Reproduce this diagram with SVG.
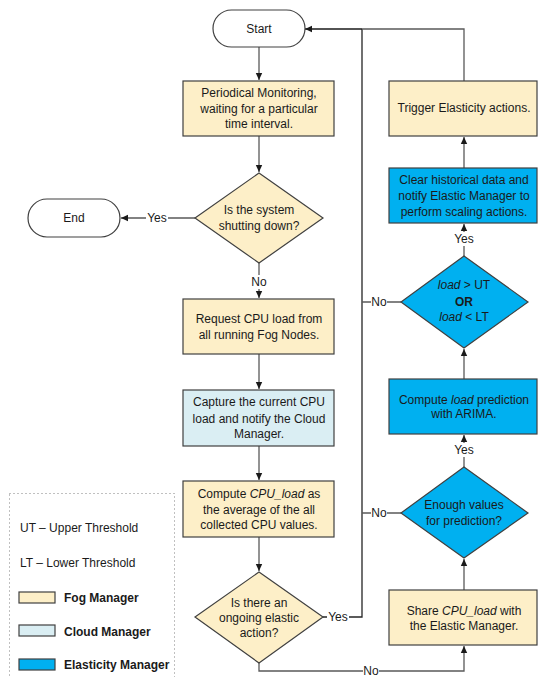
<svg xmlns="http://www.w3.org/2000/svg" width="538" height="677" viewBox="0 0 538 677">
<defs>
<style>
text{font-family:"Liberation Sans",Arial,sans-serif;font-size:12px;fill:#1a1a1a;text-anchor:middle}
.fog{fill:#FDEFC8;stroke:#404040;stroke-width:1.2}
.cloud{fill:#DAEEF3;stroke:#404040;stroke-width:1.2}
.el{fill:#00B0F0;stroke:#404040;stroke-width:1.2}
.term{fill:#fff;stroke:#404040;stroke-width:1.2}
.ln{fill:none;stroke:#595959;stroke-width:1.3}
.leg{text-anchor:start}
</style>
<marker id="ah" markerWidth="8" markerHeight="8" refX="7" refY="4" orient="auto" markerUnits="userSpaceOnUse">
<path d="M0,0.8 L7,4 L0,7.2 Z" fill="#1a1a1a"/>
</marker>
</defs>

<g id="connectors">
<path class="ln" d="M259,47 V80" marker-end="url(#ah)"/>
<path class="ln" d="M259,136 V172" marker-end="url(#ah)"/>
<path class="ln" d="M195,218 H121" marker-end="url(#ah)"/>
<path class="ln" d="M259,263 V298" marker-end="url(#ah)"/>
<path class="ln" d="M259,354 V389" marker-end="url(#ah)"/>
<path class="ln" d="M259,446 V480" marker-end="url(#ah)"/>
<path class="ln" d="M259,537 V571" marker-end="url(#ah)"/>
<path class="ln" d="M259,663 V671 H464 V646" marker-end="url(#ah)"/>
<path class="ln" d="M323,617 H362 V29" style="stroke:#262626"/>
<path class="ln" d="M362,29 H305" style="stroke:#1a1a1a;stroke-width:1.6" marker-end="url(#ah)"/>
<path class="ln" d="M464,81 V29 H362"/>
<path class="ln" d="M464,168 V137" marker-end="url(#ah)"/>
<path class="ln" d="M464,256 V224" marker-end="url(#ah)"/>
<path class="ln" d="M401,302 H362"/>
<path class="ln" d="M464,379 V349" marker-end="url(#ah)"/>
<path class="ln" d="M464,467 V435" marker-end="url(#ah)"/>
<path class="ln" d="M401,513 H362"/>
<path class="ln" d="M464,590 V559" marker-end="url(#ah)"/>
<rect x="146" y="211" width="22" height="14" fill="#fff"/>
<text x="157" y="222">Yes</text>
<rect x="251" y="275" width="16" height="14" fill="#fff"/>
<text x="259" y="286">No</text>
<rect x="327" y="610" width="22" height="14" fill="#fff"/>
<text x="338" y="621">Yes</text>
<rect x="363" y="664" width="16" height="13" fill="#fff"/>
<text x="371" y="675">No</text>
<rect x="371" y="295" width="16" height="14" fill="#fff"/>
<text x="379" y="306">No</text>
<rect x="371" y="506" width="16" height="14" fill="#fff"/>
<text x="379" y="517">No</text>
<rect x="452" y="232" width="24" height="14" fill="#fff"/>
<text x="464" y="243">Yes</text>
<rect x="452" y="443" width="24" height="14" fill="#fff"/>
<text x="464" y="454">Yes</text>
</g>

<g id="start">
<rect class="term" x="213" y="10" width="92" height="37" rx="18.5"/>
<text x="259" y="33">Start</text>
</g>

<g id="monitor">
<rect class="fog" x="183" y="81" width="151" height="55"/>
<text x="259" y="97">Periodical Monitoring,</text>
<text x="259" y="113">waiting for a particular</text>
<text x="259" y="128">time interval.</text>
</g>

<g id="shutdown">
<polygon class="fog" points="259,173 323,218 259,263 195,218"/>
<text x="259" y="214">Is the system</text>
<text x="259" y="230">shutting down?</text>
</g>

<g id="end">
<rect class="term" x="28" y="199" width="92" height="38" rx="19"/>
<text x="74" y="222">End</text>
</g>

<g id="request">
<rect class="fog" x="183" y="299" width="151" height="55"/>
<text x="259" y="323">Request CPU load from</text>
<text x="259" y="339">all running Fog Nodes.</text>
</g>

<g id="capture">
<rect class="cloud" x="183" y="390" width="151" height="56"/>
<text x="259" y="406">Capture the current CPU</text>
<text x="259" y="423">load and notify the Cloud</text>
<text x="259" y="438">Manager.</text>
</g>

<g id="compute">
<rect class="fog" x="183" y="481" width="151" height="56"/>
<text x="259" y="498">Compute <tspan font-style="italic">CPU_load</tspan> as</text>
<text x="259" y="514">the average of the all</text>
<text x="259" y="529">collected CPU values.</text>
</g>

<g id="ongoing">
<polygon class="fog" points="259,572 323,617 259,663 195,617"/>
<text x="259" y="607">Is there an</text>
<text x="259" y="622">ongoing elastic</text>
<text x="259" y="637">action?</text>
</g>

<g id="share">
<rect class="fog" x="389" y="590" width="148" height="55"/>
<text x="464" y="615">Share <tspan font-style="italic">CPU_load</tspan> with</text>
<text x="464" y="630">the Elastic Manager.</text>
</g>

<g id="enough">
<polygon class="el" points="464,467 528,513 464,558 401,513"/>
<text x="464" y="509">Enough values</text>
<text x="464" y="525">for prediction?</text>
</g>

<g id="predict">
<rect class="el" x="389" y="379" width="148" height="55"/>
<text x="464" y="404">Compute <tspan font-style="italic">load</tspan> prediction</text>
<text x="464" y="418">with ARIMA.</text>
</g>

<g id="threshold">
<polygon class="el" points="464,256 528,302 464,348 401,302"/>
<text x="464" y="289"><tspan font-style="italic">load</tspan> &gt; UT</text>
<text x="464" y="306" font-weight="bold">OR</text>
<text x="464" y="321"><tspan font-style="italic">load</tspan> &lt; LT</text>
</g>

<g id="clear">
<rect class="el" x="389" y="168" width="148" height="55"/>
<text x="464" y="184">Clear historical data and</text>
<text x="464" y="200">notify Elastic Manager to</text>
<text x="464" y="216">perform scaling actions.</text>
</g>

<g id="trigger">
<rect class="fog" x="389" y="81" width="148" height="55"/>
<text x="464" y="112">Trigger Elasticity actions.</text>
</g>

<g id="legend">
<rect x="9.5" y="493.5" width="165" height="190" fill="none" stroke="#808080" stroke-width="1" stroke-dasharray="1,3"/>
<text class="leg" x="20" y="532">UT – Upper Threshold</text>
<text class="leg" x="20" y="567">LT – Lower Threshold</text>
<rect class="fog" x="19" y="592" width="36" height="11"/>
<text class="leg" x="64" y="602" font-weight="bold">Fog Manager</text>
<rect class="cloud" x="19" y="625" width="36" height="11"/>
<text class="leg" x="64" y="636" font-weight="bold">Cloud Manager</text>
<rect class="el" x="19" y="659" width="36" height="11"/>
<text class="leg" x="64" y="669" font-weight="bold">Elasticity Manager</text>
</g>
</svg>
